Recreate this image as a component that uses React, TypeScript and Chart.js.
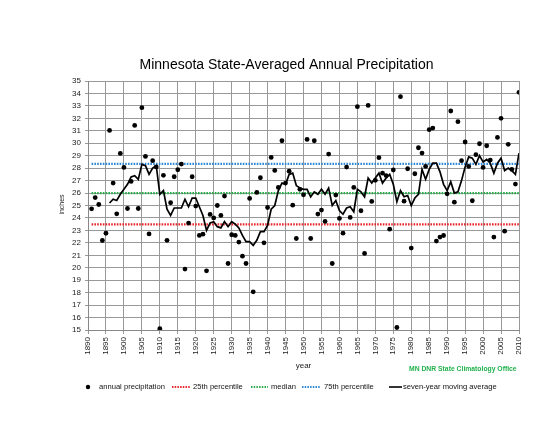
import React, { useEffect, useRef } from "react";
import { Chart, registerables } from "chart.js";

Chart.register(...registerables);

const FONT = '"Liberation Sans", Arial, Helvetica, sans-serif';

// ---- data ----
const FIRST_YEAR = 1891;
const precipitation = [
  24.73, 25.64, 25.08, 22.19, 22.77, 31.03, 26.8, 24.33, 29.18, 28.06, // 1891-1900
  24.76, 26.93, 31.43, 24.76, 32.86, 28.94, 22.72, 28.6, 28.1, 15.1, // 1901-1910
  27.42, 22.2, 25.22, 27.31, 27.87, 28.33, 19.89, 23.59, 27.31, 24.95, // 1911-1920
  22.6, 22.7, 19.75, 24.28, 24.0, 25.0, 24.2, 25.76, 20.34, 22.65, // 1921-1930
  22.6, 22.06, 20.93, 20.34, 25.57, 18.07, 26.05, 27.23, 22.0, 24.84, // 1931-1940
  28.86, 27.82, 26.45, 30.2, 26.8, 27.75, 25.03, 22.35, 26.3, 25.86, // 1941-1950
  30.31, 22.35, 30.2, 24.31, 24.63, 23.72, 29.13, 20.34, 25.84, 23.96, // 1951-1960
  22.78, 28.09, 24.04, 26.45, 32.94, 24.58, 21.15, 33.04, 25.33, 27.02, // 1961-1970
  28.84, 27.6, 27.4, 23.1, 27.85, 15.2, 33.74, 25.35, 27.95, 21.58, // 1971-1980
  27.55, 29.64, 29.21, 28.14, 31.09, 31.22, 22.14, 22.46, 22.59, 25.94, // 1981-1990
  32.59, 25.27, 31.73, 28.6, 30.1, 28.14, 25.38, 29.08, 29.96, 28.06, // 1991-2000
  29.8, 28.65, 22.46, 30.47, 32.0, 22.94, 29.91, 27.9, 26.72, 34.09, // 2001-2010
];

const MA_FIRST_YEAR = 1896;
const movingAverage = [
  25.2, 25.5, 25.4, 25.9, 26.3, // 1896-1900
  26.7, 27.3, 27.4, 27.1, 28.3, 28.2, 27.5, 28.0, 28.2, 25.9, // 1901-1910
  26.2, 24.7, 24.2, 24.8, 24.8, 24.8, 25.5, 24.9, 25.6, 25.6, // 1911-1920
  24.9, 24.2, 23.0, 23.6, 23.7, 23.3, 23.2, 23.7, 23.3, 23.7, // 1921-1930
  23.5, 23.2, 22.6, 22.1, 22.1, 21.8, 22.2, 22.9, 22.9, 23.4, // 1931-1940
  24.7, 25.0, 26.2, 26.8, 26.7, 27.5, 27.6, 26.6, 26.4, 26.3, // 1941-1950
  26.3, 25.7, 26.1, 25.9, 26.3, 25.9, 26.4, 25.0, 25.4, 24.6, // 1951-1960
  24.3, 24.8, 24.9, 24.5, 26.3, 26.1, 25.7, 27.2, 26.8, 27.2, // 1961-1970
  27.6, 26.8, 27.2, 27.5, 26.7, 25.3, 26.2, 25.7, 25.8, 25.0, // 1971-1980
  25.6, 25.9, 27.9, 27.1, 27.9, 28.4, 28.4, 27.7, 26.7, 26.2, // 1981-1990
  26.9, 26.0, 26.1, 27.0, 28.1, 28.9, 28.8, 28.3, 29.0, 28.5, // 1991-2000
  28.7, 28.4, 27.6, 28.4, 28.8, 27.8, 28.0, 27.8, 27.5, 29.2, // 2001-2010
];

const percentile25 = 23.48;
const medianValue = 26.0;
const percentile75 = 28.35;
const lineSpan = [1891, 2010];

const xRange = [1890, 2010];
const yRange = [15, 35];

const titleText = "Minnesota State-Averaged Annual Precipitation";
const xTitle = "year";
const yTitle = "inches";
const creditText = "MN DNR State Climatology Office";
const legendLabels = [
  "annual precipitation",
  "25th percentile",
  "median",
  "75th percentile",
  "seven-year moving average",
];

const RED = "#e8252a";
const GREEN = "#2aac4c";
const BLUE = "#2f88d6";
const GRID = "#999999";

const overlayPlugin = {
  id: "overlayText",
  afterDraw(chart: any) {
    const ctx: CanvasRenderingContext2D = chart.ctx;
    const { left, right, top, bottom } = chart.chartArea;
    ctx.save();
    // title
    ctx.fillStyle = "#000";
    ctx.font = `14px ${FONT}`;
    ctx.textAlign = "center";
    ctx.textBaseline = "alphabetic";
    ctx.fillText(titleText, 286.5, 68.5);

    // y title
    ctx.save();
    ctx.translate(62.5, (top + bottom) / 2 - 1);
    ctx.rotate(-Math.PI / 2);
    ctx.font = `7px ${FONT}`;
    ctx.fillStyle = "#222";
    ctx.textAlign = "center";
    ctx.textBaseline = "middle";
    ctx.fillText(yTitle, 0, 0);
    ctx.restore();

    // x title
    ctx.font = `8px ${FONT}`;
    ctx.fillStyle = "#222";
    ctx.textAlign = "center";
    ctx.textBaseline = "middle";
    ctx.fillText(xTitle, (left + right) / 2, 366);

    // credit
    ctx.font = `bold 6.8px ${FONT}`;
    ctx.fillStyle = "#22b14c";
    ctx.textAlign = "left";
    ctx.fillText(creditText, 409, 369);

    // legend
    const ly = 387;
    ctx.font = `7.6px ${FONT}`;
    ctx.textBaseline = "middle";
    ctx.beginPath();
    ctx.arc(88, ly, 2.2, 0, Math.PI * 2);
    ctx.fillStyle = "#000";
    ctx.fill();
    ctx.fillStyle = "#111";
    ctx.fillText(legendLabels[0], 99, ly);

    const sample = (x0: number, x1: number, color: string, dash: number[], w: number) => {
      ctx.save();
      ctx.strokeStyle = color;
      ctx.lineWidth = w;
      ctx.setLineDash(dash);
      ctx.beginPath();
      ctx.moveTo(x0, ly);
      ctx.lineTo(x1, ly);
      ctx.stroke();
      ctx.restore();
    };
    sample(172, 190, RED, [1.5, 1.2], 2);
    ctx.fillText(legendLabels[1], 193, ly);
    sample(251, 268, GREEN, [1.5, 1.2], 2);
    ctx.fillText(legendLabels[2], 271, ly);
    sample(302, 320, BLUE, [1.5, 1.2], 2);
    ctx.fillText(legendLabels[3], 324, ly);
    sample(389, 402, "#000", [], 1.6);
    ctx.fillText(legendLabels[4], 403, ly);
    ctx.restore();
  },
};

export default function App() {
  const canvasRef = useRef<HTMLCanvasElement | null>(null);

  useEffect(() => {
    document.body.style.margin = "0";
    const canvas = canvasRef.current;
    if (!canvas) return;

    const pointData = precipitation.map((v, i) => ({ x: FIRST_YEAR + i, y: v }));
    const maData = movingAverage.map((v, i) => ({ x: MA_FIRST_YEAR + i, y: v }));
    const flat = (v: number) => lineSpan.map((x) => ({ x, y: v }));

    const dotted = (color: string, value: number, order: number) => ({
      type: "line" as const,
      data: flat(value),
      borderColor: color,
      borderWidth: 2.2,
      borderDash: [1.6, 1.2],
      pointRadius: 0,
      fill: false,
      order,
    });

    const chart = new Chart(canvas, {
      type: "line",
      data: {
        datasets: [
          {
            label: legendLabels[0],
            data: pointData,
            showLine: false,
            pointRadius: 2.4,
            pointBackgroundColor: "#000",
            pointBorderColor: "#000",
            pointBorderWidth: 0,
            order: 0,
          } as any,
          { label: legendLabels[1], ...dotted(RED, percentile25, 4) },
          { label: legendLabels[2], ...dotted(GREEN, medianValue, 3) },
          { label: legendLabels[3], ...dotted(BLUE, percentile75, 2) },
          {
            label: legendLabels[4],
            data: maData,
            borderColor: "#000",
            borderWidth: 1.7,
            pointRadius: 0,
            tension: 0,
            fill: false,
            order: 1,
          },
        ],
      },
      options: {
        responsive: false,
        animation: false,
        events: [],
        layout: { padding: { left: 0, right: 34, top: 81, bottom: 0 } },
        plugins: {
          legend: { display: false },
          title: { display: false },
          tooltip: { enabled: false },
        },
        scales: {
          x: {
            type: "linear",
            min: xRange[0],
            max: xRange[1],
            ticks: {
              stepSize: 5,
              autoSkip: false,
              minRotation: 90,
              maxRotation: 90,
              padding: 3,
              color: "#222",
              font: { size: 8, family: FONT },
              callback: (v: any) => String(v),
            },
            grid: { color: GRID, lineWidth: 1, tickLength: 4, tickColor: GRID },
            border: { color: "#888888" },
            afterFit: (s: any) => {
              s.height = 105;
            },
          },
          y: {
            min: yRange[0],
            max: yRange[1],
            ticks: {
              stepSize: 1,
              autoSkip: false,
              padding: 4,
              color: "#222",
              font: { size: 8, family: FONT },
            },
            grid: { color: GRID, lineWidth: 1, tickLength: 3, tickColor: GRID },
            border: { color: "#888888" },
            afterFit: (s: any) => {
              s.width = 88;
            },
          },
        },
      },
      plugins: [overlayPlugin],
    } as any);

    return () => chart.destroy();
  }, []);

  return (
    <div style={{ width: 553, height: 435, background: "#fff" }}>
      <canvas ref={canvasRef} width={553} height={435} style={{ display: "block" }} />
    </div>
  );
}
